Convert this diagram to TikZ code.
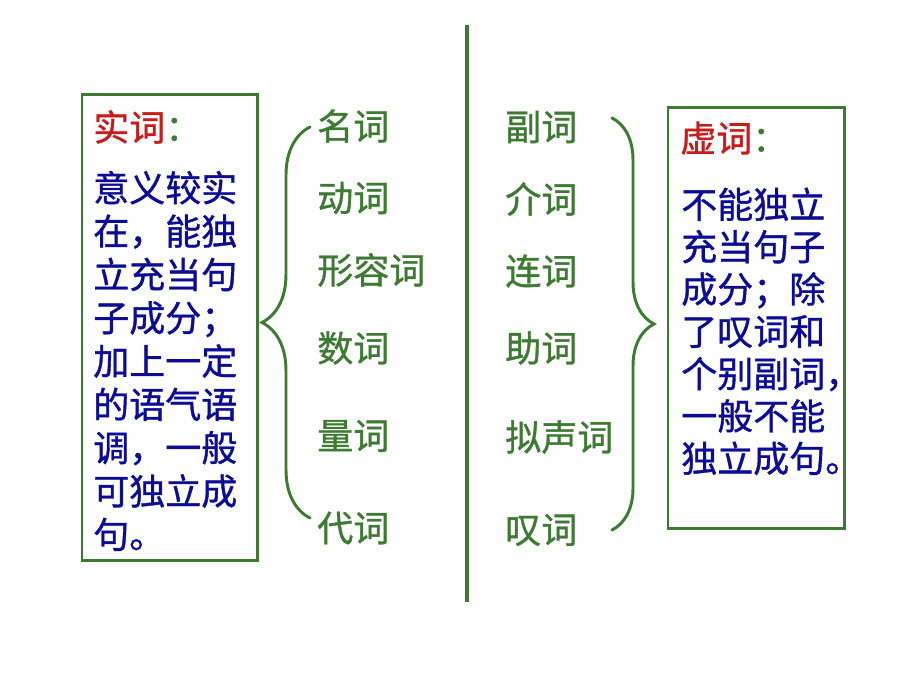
\documentclass[tikz,border=0pt]{standalone}
\usepackage{fontspec}
\usepackage{xcolor}
\usepackage{tikz}
\usetikzlibrary{decorations.pathreplacing}
\newfontfamily\cjk[FakeBold=1]{Noto Sans CJK SC}
\definecolor{leafgreen}{RGB}{62,122,52}
\definecolor{inkblue}{RGB}{12,12,150}
\definecolor{titlered}{RGB}{200,28,28}

\begin{document}
\begin{tikzpicture}[x=0.025cm, y=-0.025cm,
    every node/.style={inner sep=0pt, font=\cjk\fontsize{25.6}{30.8}\selectfont},
    word/.style={anchor=west, text=leafgreen},
    frame/.style={draw=leafgreen, line width=2.1pt},
    para/.style={anchor=base west, align=left, text=inkblue},
    curly/.style={draw=leafgreen, line width=2.1pt, line cap=round, decorate, decoration={brace, amplitude=#1}}]
    \useasboundingbox (0,0) rectangle (920,690);

    % left box: notional words
    \node (shibox) [frame, minimum width=4.375cm, minimum height=11.625cm] at (169.5,327.5) {};
    \node (shititle) [anchor=west] at (93,127) {\textcolor{titlered}{实词}\textcolor{leafgreen}{：}};
    \node (shitext) [para] at (93,548) {意义较实\\在，能独\\立充当句\\子成分；\\加上一定\\的语气语\\调，一般\\可独立成\\句。};

    \node (mingci) [word] at (317,126) {名词};
    \node (dongci) [word] at (317,198) {动词};
    \node (xingrongci) [word] at (317,270) {形容词};
    \node (shuci) [word] at (317,348) {数词};
    \node (liangci) [word] at (317,436) {量词};
    \node (daici) [word] at (317,528) {代词};

    % right side: function words
    \node (fuci) [word] at (505,127) {副词};
    \node (jieci) [word] at (505,199) {介词};
    \node (lianci) [word] at (505,271) {连词};
    \node (zhuci) [word] at (505,348) {助词};
    \node (nishengci) [word] at (505,437) {拟声词};
    \node (tanci) [word] at (505,530) {叹词};

    \node (xubox) [frame, minimum width=4.4cm, minimum height=10.5cm] at (756,318) {};
    \node (xutitle) [anchor=west] at (680,138) {\textcolor{titlered}{虚词}\textcolor{leafgreen}{：}};
    \node (xutext) [para, font=\cjk\fontsize{25.6}{30.1}\selectfont] at (681,472) {不能独立\\充当句子\\成分；除\\了叹词和\\个别副词，\\一般不能\\独立成句。};

    % divider and braces
    \coordinate (divtop) at (467,25);
    \coordinate (divbot) at (467,602);
    \draw[leafgreen, line width=3.5pt] (divtop) -- (divbot);

    \coordinate (lbraceup) at (310,127);
    \coordinate (lbracedown) at (310,518);
    \coordinate (rbraceup) at (612,118);
    \coordinate (rbracedown) at (612,530);
    \draw[curly=1.2cm] (lbracedown) -- (lbraceup);
    \draw[curly=1.05cm] (rbraceup) -- (rbracedown);
\end{tikzpicture}
\end{document}
